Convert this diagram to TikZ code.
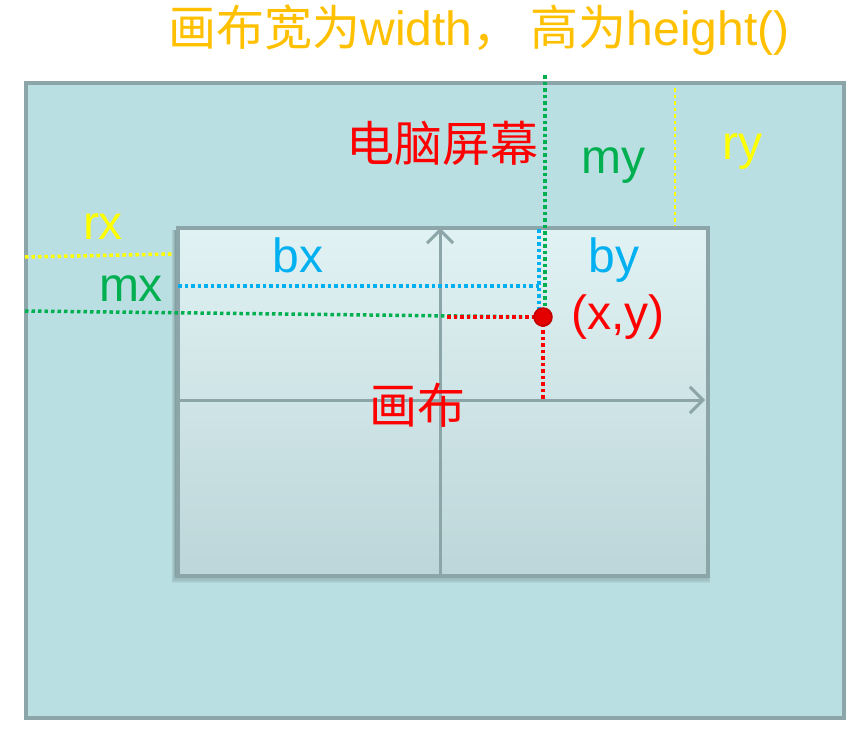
\documentclass[tikz,border=0pt]{standalone}
\usepackage{fontspec}
\setmainfont{Liberation Sans}
\newfontfamily\cjk{Noto Sans CJK SC}
\usetikzlibrary{arrows.meta}
\definecolor{scrfill}{HTML}{B9DFE2}
\definecolor{scrline}{HTML}{8BA5A8}
\definecolor{cvtop}{HTML}{E1F2F3}
\definecolor{cvbot}{HTML}{BCD6D9}
\definecolor{mgreen}{HTML}{00B050}
\definecolor{mblue}{HTML}{00B0F0}
\definecolor{myellow}{HTML}{FFFF00}
\definecolor{mred}{HTML}{FF0000}
\definecolor{mgold}{HTML}{FFC000}
\definecolor{dotred}{HTML}{C00000}
\tikzset{
  lbl/.style={inner sep=0pt, anchor=center, font=\fontsize{48}{52}\selectfont},
  cjklbl/.style={inner sep=0pt, anchor=center, font=\fontsize{48}{52}\selectfont\cjk},
  dotline/.style={line width=3.5pt, dash pattern=on 3.5pt off 3pt},
  axis/.style={draw=scrline, line width=3pt, -{Straight Barb[length=13pt,width=26pt,line width=3pt]}},
}
\begin{document}
\begin{tikzpicture}[x=1pt,y=-1pt]
\useasboundingbox (0,0) rectangle (858,728);
% screen
\node[draw=scrline, line width=3.5pt, fill=scrfill, minimum width=818pt, minimum height=635pt, inner sep=0pt, anchor=north west] (screen) at (24,81) {};
% soft shadow of canvas
\foreach \k in {1,...,7}{
  \fill[black, opacity=0.045] (176-\k*0.6,230) rectangle (706+\k*0.6,575+\k*1.1);
}
% canvas
\node[draw=scrline, line width=3.5pt, top color=cvtop, bottom color=cvbot, minimum width=530pt, minimum height=348pt, inner sep=0pt, anchor=north west] (canvas) at (176,226) {};
% axes
\coordinate (ybot) at (440,574);
\coordinate (ytop) at (440,228);
\coordinate (xl) at (177,400);
\coordinate (xr) at (705,400);
\draw[axis] (ybot) -- (ytop);
\draw[axis] (xl) -- (xr);
% point
\coordinate (P) at (543,317);
% dotted lines
\coordinate (gtop) at (545,75);
\coordinate (gbot) at (545,312);
\coordinate (gleft) at (25,311);
\coordinate (bleft) at (178,286);
\coordinate (bcorner) at (539,286);
\coordinate (btop) at (539,229);
\coordinate (bbot) at (539,312);
\coordinate (rleft) at (447,317);
\coordinate (rbot) at (543,399);
\coordinate (yl1) at (25,257);
\coordinate (yl2) at (173,254);
\coordinate (yv1) at (675,88);
\coordinate (yv2) at (675,225);
\draw[dotline, myellow] (yl1) -- (yl2);
\draw[dotline, myellow, line width=2.5pt] (yv1) -- (yv2);
\draw[dotline, mblue] (bleft) -- (bcorner);
\draw[dotline, mblue] (btop) -- (bbot);
\draw[dotline, mgreen] (gleft) -- (P);
\draw[dotline, mgreen] (gtop) -- (gbot);
\draw[dotline, mred] (rleft) -- (P);
\draw[dotline, mred] (P) -- (rbot);
\node[circle, fill=mred!90!black, draw=dotred, line width=1.5pt, minimum size=18pt, inner sep=0pt] (pt) at (P) {};
% labels
\node[inner sep=0pt, anchor=center, text=mgold, font=\fontsize{48}{52}\selectfont] (title) at (479,30) {{\cjk 画布宽为}width{\cjk ，}\hspace{10pt}{\cjk 高为}height()};
\node[cjklbl, text=mred] (scrlbl) at (442,143) {电脑屏幕};
\node[cjklbl, text=mred] (cvlbl) at (417,405) {画布};
\node[lbl, text=mgreen] (my) at (613,166) {my};
\node[lbl, text=myellow] (ry) at (742,152) {ry};
\node[lbl, text=myellow] (rx) at (103,227) {rx};
\node[lbl, text=mblue] (bx) at (298,255) {bx};
\node[lbl, text=mgreen] (mx) at (131,289) {mx};
\node[lbl, text=mblue] (by) at (614,260) {by};
\node[lbl, text=mred] (xy) at (618,317) {(x,y)};
\end{tikzpicture}
\end{document}
